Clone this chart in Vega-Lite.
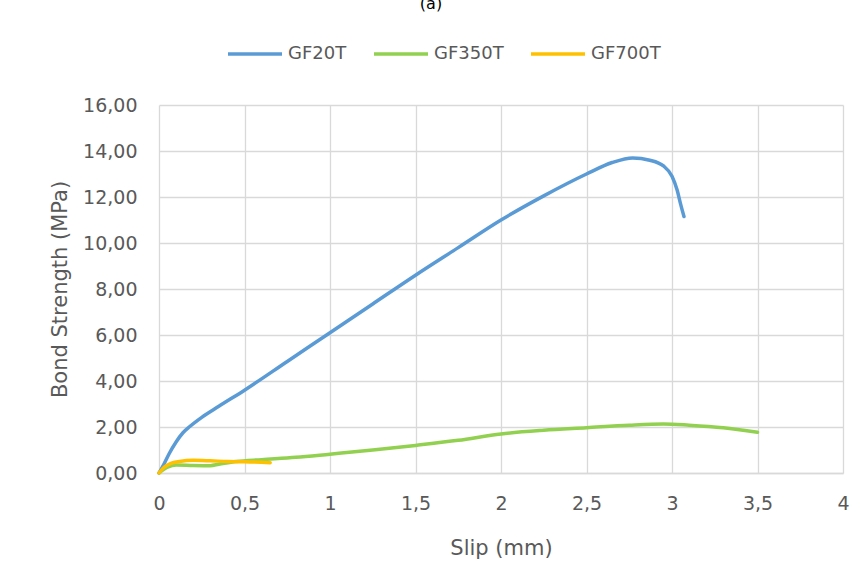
{
  "$schema": "https://vega.github.io/schema/vega-lite/v6.json",
  "width": 684,
  "height": 368,
  "autosize": {"type": "none"},
  "padding": {"left": 159, "top": 105, "right": 20, "bottom": 109},
  "background": "white",
  "title": {"text": "(a)", "offset": 13, "fontSize": 16, "font": "DejaVu Sans", "fontWeight": "normal", "color": "#000000", "anchor": "middle", "dx": -70},
  "config": {
    "locale": {"number": {"decimal": ",", "thousands": ".", "grouping": [3], "currency": ["", " €"]}},
    "view": {"stroke": null},
    "axis": {"labelFont": "DejaVu Sans", "titleFont": "DejaVu Sans", "labelColor": "#595959", "titleColor": "#595959", "labelFontSize": 19, "titleFontSize": 21, "titleFontWeight": "normal", "gridColor": "#d9d9d9", "gridWidth": 1.3, "ticks": false}
  },
  "data": {"values": [
    {"s": "GF20T", "x": 0, "y": 0},
    {"s": "GF20T", "x": 0.03, "y": 0.4},
    {"s": "GF20T", "x": 0.06, "y": 0.85},
    {"s": "GF20T", "x": 0.1, "y": 1.35},
    {"s": "GF20T", "x": 0.14, "y": 1.75},
    {"s": "GF20T", "x": 0.18, "y": 2.02},
    {"s": "GF20T", "x": 0.25, "y": 2.42},
    {"s": "GF20T", "x": 0.35, "y": 2.9},
    {"s": "GF20T", "x": 0.5, "y": 3.6},
    {"s": "GF20T", "x": 0.75, "y": 4.85},
    {"s": "GF20T", "x": 1.0, "y": 6.1},
    {"s": "GF20T", "x": 1.25, "y": 7.35},
    {"s": "GF20T", "x": 1.5, "y": 8.6},
    {"s": "GF20T", "x": 1.75, "y": 9.8},
    {"s": "GF20T", "x": 2.0, "y": 11.0},
    {"s": "GF20T", "x": 2.25, "y": 12.05},
    {"s": "GF20T", "x": 2.5, "y": 13.0},
    {"s": "GF20T", "x": 2.65, "y": 13.5},
    {"s": "GF20T", "x": 2.77, "y": 13.7},
    {"s": "GF20T", "x": 2.87, "y": 13.6},
    {"s": "GF20T", "x": 2.95, "y": 13.35},
    {"s": "GF20T", "x": 3.0, "y": 12.9},
    {"s": "GF20T", "x": 3.03, "y": 12.3},
    {"s": "GF20T", "x": 3.05, "y": 11.7},
    {"s": "GF20T", "x": 3.07, "y": 11.15},
    {"s": "GF350T", "x": 0, "y": 0},
    {"s": "GF350T", "x": 0.05, "y": 0.25},
    {"s": "GF350T", "x": 0.1, "y": 0.35},
    {"s": "GF350T", "x": 0.2, "y": 0.33},
    {"s": "GF350T", "x": 0.3, "y": 0.32},
    {"s": "GF350T", "x": 0.35, "y": 0.38},
    {"s": "GF350T", "x": 0.45, "y": 0.5},
    {"s": "GF350T", "x": 0.6, "y": 0.58},
    {"s": "GF350T", "x": 0.8, "y": 0.68},
    {"s": "GF350T", "x": 1.0, "y": 0.82},
    {"s": "GF350T", "x": 1.25, "y": 1.0},
    {"s": "GF350T", "x": 1.5, "y": 1.2},
    {"s": "GF350T", "x": 1.75, "y": 1.42},
    {"s": "GF350T", "x": 2.0, "y": 1.7},
    {"s": "GF350T", "x": 2.25, "y": 1.86},
    {"s": "GF350T", "x": 2.5, "y": 1.97},
    {"s": "GF350T", "x": 2.75, "y": 2.08},
    {"s": "GF350T", "x": 2.95, "y": 2.13},
    {"s": "GF350T", "x": 3.1, "y": 2.08},
    {"s": "GF350T", "x": 3.3, "y": 1.97},
    {"s": "GF350T", "x": 3.5, "y": 1.77},
    {"s": "GF700T", "x": 0, "y": 0},
    {"s": "GF700T", "x": 0.03, "y": 0.25},
    {"s": "GF700T", "x": 0.07, "y": 0.42},
    {"s": "GF700T", "x": 0.12, "y": 0.5},
    {"s": "GF700T", "x": 0.2, "y": 0.55},
    {"s": "GF700T", "x": 0.3, "y": 0.53},
    {"s": "GF700T", "x": 0.4, "y": 0.5},
    {"s": "GF700T", "x": 0.5, "y": 0.49},
    {"s": "GF700T", "x": 0.65, "y": 0.45}
  ]},
  "mark": {"type": "line", "strokeWidth": 3.5, "interpolate": "monotone", "strokeCap": "round"},
  "encoding": {
    "x": {"field": "x", "type": "quantitative", "title": "Slip (mm)",
      "scale": {"domain": [0, 4], "nice": false},
      "axis": {"values": [0, 0.5, 1, 1.5, 2, 2.5, 3, 3.5, 4], "format": "~g", "labelPadding": 21, "titleY": 64, "domainColor": "#d9d9d9", "domainWidth": 1.3, "labelFlush": false}},
    "y": {"field": "y", "type": "quantitative", "title": "Bond Strength (MPa)",
      "scale": {"domain": [0, 16], "nice": false},
      "axis": {"values": [0, 2, 4, 6, 8, 10, 12, 14, 16], "format": ".2f", "labelPadding": 22, "domain": false, "titleX": -89}},
    "color": {"field": "s", "type": "nominal",
      "scale": {"domain": ["GF20T", "GF350T", "GF700T"], "range": ["#5b9bd5", "#92d050", "#ffc000"]},
      "legend": {"title": null, "orient": "none", "direction": "horizontal", "legendX": 67, "legendY": -80,
        "symbolType": "stroke", "symbolSize": 2916, "symbolStrokeWidth": 3.5, "labelFont": "DejaVu Sans", "labelFontSize": 18, "labelColor": "#595959", "columnPadding": 20, "labelOffset": 4}},
    "order": {"field": "x", "type": "quantitative"}
  }
}
